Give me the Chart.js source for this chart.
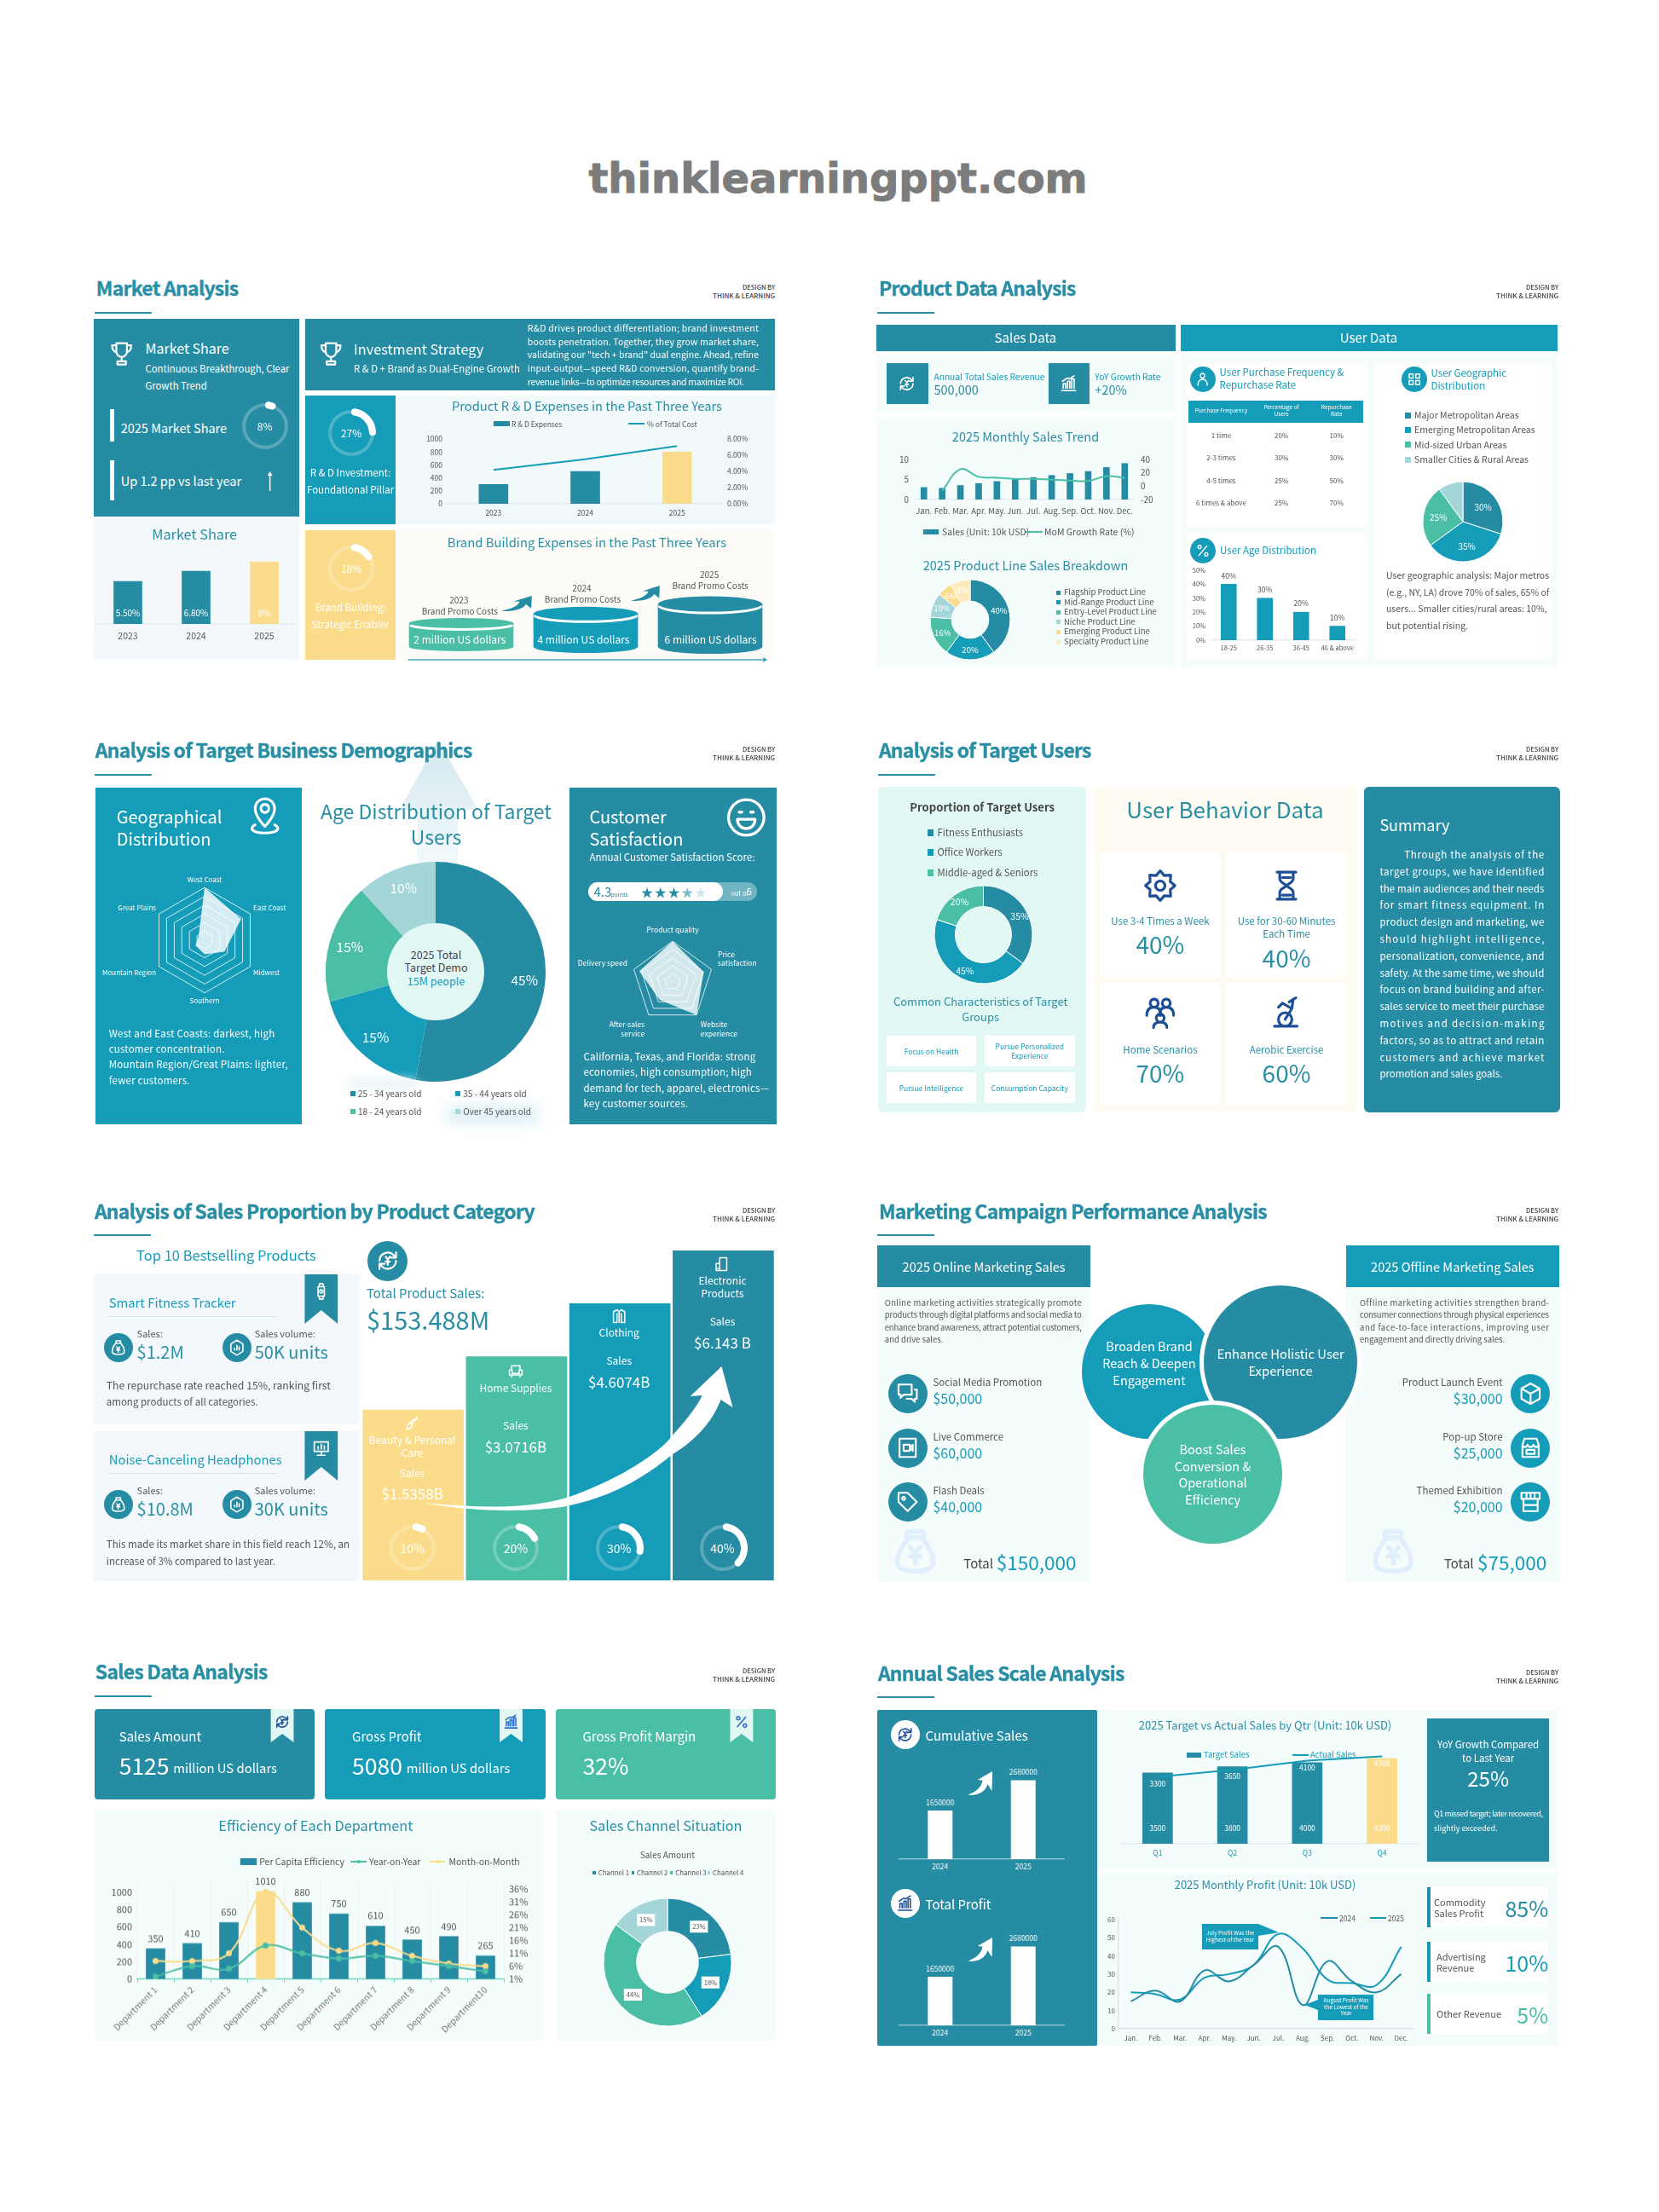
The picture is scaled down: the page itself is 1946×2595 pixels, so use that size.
<!DOCTYPE html>
<html>
<head>
<meta charset="utf-8">
<title>Eight slide dashboards</title>
<script src="https://cdn.jsdelivr.net/npm/chart.js@4"></script>
<style>
html,body{margin:0;padding:0;background:#fff}
#page{position:relative;width:1946px;height:2595px;overflow:hidden;background:#fff;font-family:"Noto Sans CJK SC","Noto Sans",sans-serif}
#page canvas,#page svg,#page div{position:absolute}
</style>
</head>
<body>
<div id="page"></div>
<script>
// data
const yearLabels = ['2023', '2024', '2025'];
const marketShare = [5.5, 6.8, 8];
const marketShareText = ['5.50%', '6.80%', '8%'];
const rdExpenses = [300, 500, 800];
const rdCostShare = [4.2, 5.5, 7.15];
const rdLeftTicks = [0, 200, 400, 600, 800, 1000];
const rdRightTicks = [0, 2, 4, 6, 8];
const brandCosts = [2, 4, 6];
const months = ['Jan.', 'Feb.', 'Mar.', 'Apr.', 'May.', 'Jun.', 'Jul.', 'Aug.', 'Sep.', 'Oct.', 'Nov.', 'Dec.'];
const monthlySales = [3, 2.8, 3.5, 4, 4.5, 5, 5.5, 6, 6.5, 7, 8, 9];
const monthlyGrowth = [null, -7, 25.5, 14, 12.7, 10.8, 11, 9.6, 8.5, 7.7, 15, 12.3];
const productLines = ['Flagship Product Line', 'Mid-Range Product Line', 'Entry-Level Product Line', 'Niche Product Line', 'Emerging Product Line', 'Specialty Product Line'];
const productLineShare = [40, 20, 16, 10, 6, 8];
const tableHead = [['Purchase Frequency'], ['Percentage of', 'Users'], ['Repurchase', 'Rate']];
const purchaseFrequency = ['1 time', '2-3 times', '4-5 times', '6 times & above'];
const purchaseUsers = ['20%', '30%', '25%', '25%'];
const purchaseRepeat = ['10%', '30%', '50%', '70%'];
const ageGroups = ['18-25', '26-35', '36-45', '46 & above'];
const ageShare = [40, 30, 20, 10];
const ageTicks = [0, 10, 20, 30, 40, 50];
const geoAreas = ['Major Metropolitan Areas', 'Emerging Metropolitan Areas', 'Mid-sized Urban Areas', 'Smaller Cities & Rural Areas'];
const geoShare = [30, 35, 25, 10];
const regionNames = ['West Coast', 'East Coast', 'Midwest', 'Southern', 'Mountain Region', 'Great Plains'];
const regionScores = [6, 4.8, 2.6, 1.6, 1.2, 0.8];
const targetAges = ['25 - 34 years old', '35 - 44 years old', '18 - 24 years old', 'Over 45 years old'];
const targetAgeShare = [45, 15, 15, 10];
const satisfactionNames = ['Product quality', ['Price', 'satisfaction'], ['Website', 'experience'], ['After-sales', 'service'], 'Delivery speed'];
const satisfactionScores = [5, 4, 5, 2.7, 4.3];
const userTypes = ['Fitness Enthusiasts', 'Office Workers', 'Middle-aged & Seniors'];
const userTypeShare = [35, 45, 20];
const categorySales = [1.5358, 3.0716, 4.6074, 6.143];
const categoryShare = [10, 20, 30, 40];
const departments = ['Department 1', 'Department 2', 'Department 3', 'Department 4', 'Department 5', 'Department 6', 'Department 7', 'Department 8', 'Department 9', 'Department10'];
const deptEfficiency = [350, 410, 650, 1010, 880, 750, 610, 450, 490, 265];
const deptYoY = [2, 6, 5, 14, 11, 9, 10, 8, 6, 4];
const deptMoM = [8, 8, 11, 35, 21, 12, 15, 10, 7, 6];
const deptLeftTicks = [0, 200, 400, 600, 800, 1000];
const deptRightTicks = [1, 6, 11, 16, 21, 26, 31, 36];
const channels = ['Channel 1', 'Channel 2', 'Channel 3', 'Channel 4'];
const channelShare = [23, 18, 44, 15];
const cumulativeYears = ['2024', '2025'];
const cumulativeSales = [1650000, 2680000];
const totalProfit = [1650000, 2680000];
const quarters = ['Q1', 'Q2', 'Q3', 'Q4'];
const targetSales = [3500, 3800, 4000, 4200];
const actualSales = [3300, 3650, 4100, 4308];
const profit2024 = [15, 21, 15, 32, 26, 35, 45, 13, 37, 26, 20, 30];
const profit2025 = [20, 19, 16, 28, 30, 35, 52, 44, 27, 25, 24, 45];
const profitTicks = [0, 10, 20, 30, 40, 50, 60];

const DARK = '#258CA3', CYAN = '#159CB8', GREEN = '#4ABFA6', YEL = '#FBDC8B', PALE = '#A3D5D9', CREAM = '#FDEBBB';
const HEAD = '#2A8FA5', SOFT = '#F4FCFC', MINT = '#E2F8F4', GRAY = '#555', NAVY = '#1D4E96';
const FONT = '"Noto Sans CJK SC","Noto Sans",sans-serif';
const page = document.getElementById('page');
const measure = document.createElement('canvas').getContext('2d');
Chart.defaults.font.family = FONT;
Chart.defaults.color = GRAY;

// page x positions were read with a slightly wide ruler, this pulls them back per slide
const RULER = 0.9941;
let originX = 0, ruler = 1;
function slide(x0) { originX = x0; ruler = RULER; }
function exact(on) { ruler = on ? 1 : RULER; }
function W(x) { return originX + (x - originX) * ruler; }

function t(s, x, y, o = {}) {
  const d = document.createElement('div');
  d.textContent = s;
  const size = o.s || 12;
  let ls = o.ls || 0;
  if (o.jw) {
    measure.font = `${o.w || 400} ${size}px ${FONT}`;
    ls = (o.jw - measure.measureText(s).width) / (s.length - 1);
  }
  const shift = o.a === 'c' ? '-50%' : o.a === 'r' ? '-100%' : '0';
  d.style.cssText = `left:${W(x)}px;top:${y}px;font-size:${size}px;color:${o.c || GRAY};font-weight:${o.w || 400};` +
    `letter-spacing:${ls}px;line-height:1.2;white-space:nowrap;transform:translate(${shift},-50%);` + (o.css || '');
  page.appendChild(d);
}
function lines(arr, x, y, dy, o) { arr.forEach((s, i) => t(s, x, y + i * dy, o)); }
function box(x0, y0, x1, y1, c, r, extra) {
  const d = document.createElement('div');
  d.style.cssText = `left:${W(x0)}px;top:${y0}px;width:${W(x1) - W(x0)}px;height:${y1 - y0}px;background:${c};border-radius:${r || 0}px;${extra || ''}`;
  page.appendChild(d);
}
function circle(cx, cy, r, c, ring) {
  const d = document.createElement('div');
  d.style.cssText = `left:${W(cx) - r}px;top:${cy - r}px;width:${2 * r}px;height:${2 * r}px;background:${c};border-radius:50%;` +
    (ring ? `box-shadow:0 0 0 ${ring}px #fff` : '');
  page.appendChild(d);
}
function shape(inner) {
  const s = document.createElementNS('http://www.w3.org/2000/svg', 'svg');
  s.setAttribute('width', 1946); s.setAttribute('height', 2595);
  s.style.cssText = 'left:0;top:0;pointer-events:none';
  s.innerHTML = `<g transform="translate(${originX} 0) scale(${ruler} 1) translate(${-originX} 0)">${inner}</g>`;
  page.appendChild(s);
}

const ICONS = {
  trophy: 'M7 2h10v8a5 5 0 0 1-10 0zM7 4H3c0 4 1.5 6 4 6.5M17 4h4c0 4-1.5 6-4 6.5M12 15v4M8 22h8v-3H8z',
  pin: 'M12 18S6 12 6 7a6 6 0 0 1 12 0c0 5-6 11-6 11zM12 4.5a2.5 2.5 0 1 0 .01 0zM6 17c-4 2-2 5 6 5s10-3 6-5',
  smile: 'M12 2a10 10 0 1 0 .01 0zM8 9h1.5M14.5 9H16M7 13h10c0 7-10 7-10 0z',
  cycle: 'M4 12a8 8 0 0 1 14-5l1.5 2M20 12a8 8 0 0 1-14 5l-1.5-2M20 4v5h-5M4 20v-5h5M10 8l2 3 2-3M12 11v5M10 13h4',
  rise: 'M3 21h18M5 18v-6h3v6M10.5 18V9h3v9M16 18V6h3v12M4 9l6-4 3 1 6-4',
  percent: 'M6 19L18 5M7 4a2.500 2.500 0 1 0 .01 0zM17 15a2.500 2.500 0 1 0 .01 0z',
  person: 'M12 3a3.500 3.500 0 1 0 .01 0zM5 21c0-6 3-9 7-9s7 3 7 9',
  grid: 'M4 4h6v6H4zM14 4h6v6h-6zM4 14h6v6H4zM14 14h6v6h-6z',
  watch: 'M8 6h8v12H8zM9 6l1-4h4l1 4M9 18l1 4h4l1-4M12 10a2 2 0 1 0 .01 0z',
  bag: 'M9 3h6v3H9zM9 6C5 10 4 14 4 17c0 3 2 4 8 4s8-1 8-4c0-3-1-7-5-11zM10 11l2 3 2-3M12 14v4M10 15h4',
  badge: 'M12 2l8 5v10l-8 5-8-5V7zM9 15v-2M12 15V9M15 15v-4',
  screen: 'M3 4h18v12H3zM12 16v4M7 21h10M8 13v-3M12 13V7M16 13V9',
  shirt: 'M9 3L4 6v15h5V8M15 3l5 3v15h-5V8M9 3l3 3 3-3M12 6v15',
  sofa: 'M6 10V5h12v5M3 11h4v5h10v-5h4v7H3zM6 18v3M18 18v3',
  phone: 'M8 3h10v18H8zM3 11h5v10H3zM5 18h1',
  brush: 'M20 3l-9 10-3-2zM8 11c-3 2-2 6-4 9 4 0 8-1 7-7',
  chat: 'M3 3h13v10H8l-3 3v-3H3zM19 8h2v9h-2v3l-3-3h-5',
  video: 'M4 3h16v18H4zM8 9h6v6H8zM14 12l3-3v6z',
  tag: 'M3 3h9l9 9-9 9-9-9zM8 7a1.500 1.500 0 1 0 .01 0z',
  box: 'M12 2l9 5v10l-9 5-9-5V7zM3 7l9 5 9-5M12 12v10',
  store: 'M4 9l2-6h12l2 6M4 9v12h16V9M4 9c1 3 4 3 5 0 1 3 5 3 6 0 1 3 4 3 5 0M8 14h8v4H8z',
  kiosk: 'M3 3h18v6H3zM5 9v12h14V9M5 15h14M8 3v6M12 3v6M16 3v6',
  gear: 'M12 1l3 3.500 4.800-.3-.3 4.800L23 12l-3.500 3 .3 4.800-4.800-.3L12 23l-3-3.500-4.800.3.3-4.800L1 12l3.500-3-.3-4.800 4.800.3zM12 8.500a3.500 3.500 0 1 0 .01 0z',
  hourglass: 'M5 2h14M5 22h14M7 2v5c0 3 5 4 5 5s-5 2-5 5v5M17 2v5c0 3-5 4-5 5s5 2 5 5v5M9 19h6M9 6h6',
  people: 'M7.500 2a3 3 0 1 0 .01 0zM16.500 2a3 3 0 1 0 .01 0zM2 14c0-4 2-6 5.500-6s5 2 5 6M11.500 14c0-4 1.500-6 5-6s5.500 2 5.500 6M12 13a3 3 0 1 0 .01 0zM7 23c0-3 2-4 5-4s5 1 5 4',
  bike: 'M3 22h17M6 17a5 5 0 1 0 10 0 5 5 0 0 0-10 0zM11 17l5-8-7-4M9 5l-3 3M16 9l1-7M14 4l5-3',
  moneybag: 'M9 2h6c2 0 2 3 0 3H9C7 5 7 2 9 2zM9 5C5 9 3 14 3 17c0 3 2 5 9 5s9-2 9-5c0-3-2-8-6-12zM9.500 10l2.500 3 2.500-3M12 13v5M9.500 14.500h5'
};
function icon(name, cx, cy, size, color, sw) {
  const k = size / 24;
  shape(`<g transform="translate(${cx - size / 2} ${cy - size / 2}) scale(${k})" fill="none" stroke="${color}" stroke-width="${sw || 1.8}" stroke-linejoin="round" stroke-linecap="round"><path d="${ICONS[name]}"/></g>`);
}
function badge(name, cx, cy, r, bg, fg) {
  circle(cx, cy, r, bg);
  icon(name, cx, cy, r * 1.25, fg || '#fff');
}
function swoosh(x, y, w, h, c) {
  shape(`<g transform="translate(${x} ${y}) scale(${w / 100} ${h / 100})"><path fill="${c}" d="M0 98C30 88 55 68 60 38L40 36 100 0 98 82 80 54C76 82 40 106 0 98Z"/></g>`);
}
function slideHead(title, x, y, right, lineX, lineY) {
  t(title, x, y, { s: 23, w: 700, c: HEAD, ls: -0.75, css: `-webkit-text-stroke:.4px ${HEAD}` });
  t('DESIGN BY', right, y - 2, { s: 7.5, w: 500, c: '#444', a: 'r' });
  t('THINK & LEARNING', right, y + 9, { s: 8, w: 500, c: '#444', a: 'r' });
  box(lineX, lineY - 1, lineX + 68, lineY + 1, HEAD);
}

function chartAt(x, y, w, h, cfg) {
  const c = document.createElement('canvas');
  c.width = w; c.height = h;
  c.style.cssText = `left:${x}px;top:${y}px;width:${w}px;height:${h}px`;
  page.appendChild(c);
  cfg.options = cfg.options || {};
  cfg.options.responsive = false;
  cfg.options.animation = false;
  cfg.options.plugins = Object.assign({ legend: { display: false }, tooltip: { enabled: false } }, cfg.options.plugins);
  return new Chart(c.getContext('2d'), cfg);
}
// plot = [x0,y0,x1,y1] page rectangle of the axes, m = [left,top,right,bottom] room around it
function cartesian(plot, m, cfg) {
  const x0 = W(plot[0]), y0 = plot[1], x1 = W(plot[2]), y1 = plot[3], [l, tp, r, b] = m, sc = cfg.scales;
  sc.x.afterFit = s => { s.height = b; };
  sc.y.afterFit = s => { s.width = l; };
  if (sc.y1) { sc.y1.position = 'right'; sc.y1.afterFit = s => { s.width = r; }; }
  return chartAt(x0 - l, y0 - tp, x1 - x0 + l + r, y1 - y0 + tp + b, {
    type: cfg.type || 'bar',
    data: { labels: cfg.labels, datasets: cfg.datasets },
    plugins: cfg.plugins || [],
    options: { layout: { padding: { top: tp, right: sc.y1 ? 0 : r } }, scales: sc }
  });
}
function xAxis(o = {}) {
  return {
    offset: true, grid: o.grid || { display: false, drawTicks: false },
    border: o.line ? { color: o.line, width: o.lw || 1.5 } : { display: false },
    ticks: { display: o.s !== undefined, font: { size: o.s }, color: o.c || GRAY, padding: o.pad || 4, autoSkip: false, maxRotation: o.rot || 0, minRotation: o.rot || 0 }
  };
}
function yAxis(min, max, vals, o = {}) {
  return {
    min, max, grid: { display: false, drawTicks: false },
    border: o.line ? { color: o.line, width: 1.5 } : { display: false },
    afterBuildTicks: vals ? (s => { s.ticks = vals.map(v => ({ value: v })); }) : undefined,
    ticks: { display: !!vals, autoSkip: false, font: { size: o.s }, color: o.c || GRAY, padding: o.pad || 5, callback: o.fmt || (v => v) }
  };
}
let labelId = 0;
function barLabels(o) {
  return {
    id: 'barLabels' + (labelId++),
    afterDatasetsDraw(chart) {
      const ctx = chart.ctx;
      ctx.save();
      ctx.font = `${o.s || 9}px ${FONT}`;
      ctx.fillStyle = o.c || GRAY;
      ctx.textAlign = 'center'; ctx.textBaseline = 'middle';
      chart.getDatasetMeta(o.ds || 0).data.forEach((el, i) => {
        const y = o.base !== undefined ? el.base - o.base : o.below !== undefined ? el.y + o.below : el.y - (o.top || 8);
        ctx.fillText(o.text[i], el.x, y);
      });
      ctx.restore();
    }
  };
}
function sliceLabels(o) {
  return {
    id: 'sliceLabels' + (labelId++),
    afterDatasetsDraw(chart) {
      const ctx = chart.ctx;
      ctx.save();
      ctx.font = `${o.s || 10}px ${FONT}`;
      ctx.textAlign = 'center'; ctx.textBaseline = 'middle';
      chart.getDatasetMeta(0).data.forEach((el, i) => {
        const a = (el.startAngle + el.endAngle) / 2, rr = el.innerRadius + (el.outerRadius - el.innerRadius) * (o.frac || 0.5);
        const x = el.x + Math.cos(a) * rr, y = el.y + Math.sin(a) * rr, txt = o.text[i];
        if (o.boxed) { const w = ctx.measureText(txt).width + 6; ctx.fillStyle = '#fff'; ctx.fillRect(x - w / 2, y - 7, w, 14); }
        ctx.fillStyle = o.c || '#fff';
        ctx.fillText(txt, x, y);
      });
      ctx.restore();
    }
  };
}
function donut(cx, cy, R, r, vals, colors, labels, edge) {
  const pad = 4, X = W(cx), cfg = {
    type: r ? 'doughnut' : 'pie',
    data: { datasets: [{ data: vals, backgroundColor: colors, borderColor: '#fff', borderWidth: edge === undefined ? 1 : edge, radius: R, cutout: r }] },
    plugins: labels ? [sliceLabels(labels)] : []
  };
  return chartAt(X - R - pad, cy - R - pad, 2 * (R + pad), 2 * (R + pad), cfg);
}
const ringTrack = {
  id: 'ringTrack',
  beforeDatasetsDraw(chart) {
    const el = chart.getDatasetMeta(0).data[0], ctx = chart.ctx;
    ctx.save();
    ctx.strokeStyle = 'rgba(255,255,255,.24)'; ctx.lineWidth = 4;
    ctx.beginPath(); ctx.arc(el.x, el.y, (el.outerRadius + el.innerRadius) / 2, 0, Math.PI * 2); ctx.stroke();
    ctx.restore();
  }
};
function ring(cx, cy, R, val, fs) {
  const pad = 3, X = W(cx);
  chartAt(X - R - pad, cy - R - pad, 2 * (R + pad), 2 * (R + pad), {
    type: 'doughnut',
    data: { datasets: [{ data: [val, 100 - val], backgroundColor: ['#fff', 'rgba(0,0,0,0)'], borderWidth: 0, radius: R, cutout: R - 6, borderRadius: c => c.dataIndex === 0 ? 4 : 0 }] },
    plugins: [ringTrack]
  });
  t(val + '%', cx, cy, { s: fs || 12, c: '#fff', a: 'c' });
}
function legendItem(x, y, name, c, o = {}) {
  const z = o.z || 6;
  box(x, y - z / 2, x + z, y + z / 2, c);
  t(name, x + z + (o.gap || 4), y, { s: o.s || 10, c: o.tc || GRAY });
}
function lineLegend(x0, x1, y, name, c, o = {}) {
  box(x0, y - 1, x1, y + 1, c);
  t(name, x1 + (o.gap || 2), y, { s: o.s || 10, c: o.tc || GRAY });
}

// watermark
t('thinklearningppt.com', 983, 210, { s: 48, w: 700, c: '#7c7c7c', a: 'c', css: 'font-family:"DejaVu Sans";-webkit-text-stroke:1px #7c7c7c' });

// ---------- slide 1: market analysis ----------
slide(90);
slideHead('Market Analysis', 113, 338, 914, 111, 367);
box(110, 374, 353, 606, DARK);
icon('trophy', 143, 415, 30, '#fff');
t('Market Share', 171, 409, { s: 16, c: '#fff' });
lines(['Continuous Breakthrough, Clear', 'Growth Trend'], 171, 433, 19.5, { s: 11.3, c: '#fff' });
box(129, 480, 134, 518, '#fff');
t('2025 Market Share', 142, 502, { s: 14.5, c: '#fff' });
ring(312, 500, 29, 8);
box(129, 540, 134, 587, '#fff');
t('Up 1.2 pp vs last year', 142, 564, { s: 14.5, c: '#fff' });
shape('<path d="M318 576V557" stroke="#fff" stroke-width="1.500"/><path d="M315 558l3-5 3 5z" fill="#fff"/>');

box(110, 607, 353, 774, '#F3F8FB');
t('Market Share', 229, 627, { s: 16.3, c: HEAD, a: 'c' });
cartesian([110, 650, 352, 732], [0, 8, 0, 26], {
  labels: yearLabels,
  datasets: [{ data: marketShare, backgroundColor: [DARK, DARK, YEL], barThickness: 33 }],
  scales: { x: xAxis({ s: 10.5, line: '#E6ECEF', pad: 8 }), y: yAxis(0, 9.02) },
  plugins: [barLabels({ text: marketShareText, base: 13, s: 10, c: '#fff' })]
});

box(360, 374, 914, 458, DARK);
icon('trophy', 390, 415, 30, '#fff');
t('Investment Strategy', 417, 410, { s: 16.3, c: '#fff' });
t('R & D + Brand as Dual-Engine Growth', 417, 433, { s: 11.4, c: '#fff' });
['R&D drives product differentiation; brand investment', 'boosts penetration. Together, they grow market share,',
  'validating our "tech + brand" dual engine. Ahead, refine', 'input-output—speed R&D conversion, quantify brand-'
].forEach((s, i) => t(s, 622, 385 + i * 15.7, { s: 10.5, c: '#fff', jw: 271 }));
t('revenue links—to optimize resources and maximize ROI.', 622, 447.8, { s: 10.5, c: '#fff', jw: 254 });

box(360, 464, 466, 615, CYAN);
ring(414, 508, 29, 27);
lines(['R & D Investment:', 'Foundational Pillar'], 413, 555, 19.5, { s: 11.500, c: '#fff', a: 'c' });
box(466, 464, 914, 615, '#F1F9FB');
t('Product R & D Expenses in the Past Three Years', 692, 476, { s: 14.7, c: HEAD, a: 'c' });
box(582, 494, 601, 500, DARK);
t('R & D Expenses', 603, 497, { s: 8.500 });
box(741, 496, 760, 498, CYAN);
t('% of Total Cost', 763, 497, { s: 8.500 });
cartesian([528, 512, 853, 591], [40, 8, 40, 20], {
  labels: yearLabels,
  datasets: [
    { type: 'line', data: rdCostShare, yAxisID: 'y1', borderColor: CYAN, borderWidth: 2, pointRadius: 0, order: 1 },
    { data: rdExpenses, backgroundColor: [DARK, DARK, YEL], barThickness: 34, order: 2 }
  ],
  scales: {
    x: xAxis({ s: 8.500, line: '#E6ECEF', pad: 6 }),
    y: yAxis(0, 1000, rdLeftTicks, { s: 8.500, pad: 6 }),
    y1: yAxis(0, 8, rdRightTicks, { s: 8.500, fmt: v => v.toFixed(2) + '%' })
  }
});

box(360, 622, 466, 774, YEL);
ring(414, 667, 29, 18);
lines(['Brand Building:', 'Strategic Enabler'], 413, 713, 20, { s: 11.500, c: '#fff', a: 'c' });
box(466, 622, 914, 774, '#FDFCF8');
t('Brand Building Expenses in the Past Three Years', 692, 636, { s: 14.8, c: HEAD, a: 'c' });
const cylinderCaps = {
  id: 'cylinderCaps',
  afterDatasetsDraw(chart) {
    const ctx = chart.ctx, cols = [GREEN, CYAN, DARK], ry = [6, 8, 9];
    chart.getDatasetMeta(0).data.forEach((b, i) => {
      const rx = b.width / 2;
      ctx.fillStyle = cols[i];
      ctx.beginPath(); ctx.ellipse(b.x, b.base, rx, ry[i] - 1, 0, 0, Math.PI * 2); ctx.fill();
      ctx.fillStyle = '#fff';
      ctx.beginPath(); ctx.ellipse(b.x, b.y + 3, rx, ry[i], 0, 0, Math.PI * 2); ctx.fill();
      ctx.fillStyle = cols[i];
      ctx.beginPath(); ctx.ellipse(b.x, b.y, rx, ry[i], 0, 0, Math.PI * 2); ctx.fill();
    });
  }
};
cartesian([470, 690, 911, 759], [0, 12, 0, 10], {
  labels: yearLabels,
  datasets: [{ data: brandCosts, backgroundColor: [GREEN, CYAN, DARK], barThickness: 122, base: -3 }],
  scales: { x: xAxis(), y: yAxis(-3, 9.32) },
  plugins: [cylinderCaps]
});
yearLabels.forEach((yr, i) => {
  const cx = [541, 686, 836.5][i], cy = [704, 690, 674][i], mx = [542, 688, 838][i];
  t(yr, cx, cy, { s: 10, a: 'c' });
  t('Brand Promo Costs', cx + 1, cy + 13, { s: 10, a: 'c' });
  t(brandCosts[i] + ' million US dollars', mx, 750, { s: 12, c: '#fff', a: 'c' });
});
swoosh(591, 699, 36, 18, DARK);
swoosh(744, 687, 34, 18, DARK);
shape('<path d="M481 774H903" stroke="#3FA9BE" stroke-width="1.500"/><path d="M900 771l5 3-5 3z" fill="#3FA9BE"/>');

// ---------- slide 2: product data ----------
slide(1010);
slideHead('Product Data Analysis', 1031, 338, 1833, 1029, 367);
box(1028, 381, 1381, 412, DARK);
t('Sales Data', 1204, 396, { s: 15, c: '#fff', a: 'c' });
box(1387, 381, 1832, 412, CYAN);
t('User Data', 1609, 396, { s: 15, c: '#fff', a: 'c' });
box(1028, 417, 1381, 484, SOFT);
box(1028, 489, 1381, 783, SOFT);
box(1387, 417, 1832, 783, SOFT);
box(1394, 425, 1608, 618, '#fff');
box(1394, 625, 1608, 775, '#fff');
box(1616, 425, 1825, 775, '#fff');
box(1040, 426, 1089, 474, DARK);
icon('cycle', 1064, 450, 22, '#fff');
t('Annual Total Sales Revenue', 1096, 442, { s: 10.2, c: CYAN });
t('500,000', 1096, 457, { s: 14.5, c: HEAD });
box(1231, 426, 1280, 474, DARK);
icon('rise', 1255, 450, 22, '#fff');
t('YoY Growth Rate', 1286, 442, { s: 10.2, c: CYAN });
t('+20%', 1286, 457, { s: 14.5, c: HEAD });

exact(true);
t('2025 Monthly Sales Trend', 1203, 512, { s: 14.5, c: HEAD, a: 'c' });
cartesian([1073, 533, 1330, 586], [30, 8, 35, 22], {
  labels: months,
  datasets: [
    { type: 'line', data: monthlyGrowth, yAxisID: 'y1', borderColor: GREEN, borderWidth: 2, pointRadius: 0, tension: 0.4, order: 1 },
    { data: monthlySales, backgroundColor: DARK, barThickness: 7, order: 2 }
  ],
  scales: {
    x: xAxis({ s: 9.500, line: '#E6ECEF', pad: 8 }),
    y: yAxis(0, 10, [0, 5, 10], { s: 10, pad: 7 }),
    y1: yAxis(-20, 40, [-20, 0, 20, 40], { s: 10, pad: 8 })
  }
});
box(1083, 621, 1101, 627, DARK);
t('Sales (Unit: 10k USD)', 1105, 624, { s: 10.5 });
box(1203, 623, 1223, 625, GREEN);
t('MoM Growth Rate (%)', 1225, 624, { s: 10.5 });

t('2025 Product Line Sales Breakdown', 1203, 663, { s: 14.5, c: HEAD, a: 'c' });
const sixColors = [DARK, CYAN, GREEN, PALE, YEL, CREAM];
donut(1138, 727, 47, 23.5, productLineShare, sixColors, { text: productLineShare.map(v => v + '%'), s: 9.500, frac: 0.55 });
productLines.forEach((n, i) => legendItem(1239, 695 + i * 11.6, n, sixColors[i], { z: 5, s: 9.500 }));
exact(false);

badge('person', 1413, 445, 15, CYAN);
lines(['User Purchase Frequency &', 'Repurchase Rate'], 1433, 437, 15, { s: 11.500, c: CYAN });
box(1396, 470, 1603, 496, CYAN);
const colX = [1435, 1506, 1571];
tableHead.forEach((h, i) => {
  const y = h.length === 1 ? 482 : 478;
  lines(h, colX[i], y, 8, { s: 6.500, c: '#fff', a: 'c' });
});
purchaseFrequency.forEach((f, i) => {
  const y = 511 + i * 26.4;
  t(f, colX[0], y, { s: 8, a: 'c' });
  t(purchaseUsers[i], colX[1], y, { s: 8, a: 'c' });
  t(purchaseRepeat[i], colX[2], y, { s: 8, a: 'c' });
});
exact(true);
badge('percent', 1411, 646, 15, CYAN);
t('User Age Distribution', 1431, 646, { s: 11.500, c: CYAN });
cartesian([1420, 669, 1590, 751], [26, 12, 8, 16], {
  labels: ageGroups,
  datasets: [{ data: ageShare, backgroundColor: CYAN, barThickness: 18 }],
  scales: {
    x: xAxis({ s: 7.500, line: '#E6ECEF', pad: 5 }),
    y: yAxis(0, 50, ageTicks, { s: 7.500, pad: 6, fmt: v => v + '%' })
  },
  plugins: [barLabels({ text: ageShare.map(v => v + '%'), top: 10, s: 8.500 })]
});
exact(false);
badge('grid', 1663, 445, 15, CYAN);
lines(['User Geographic', 'Distribution'], 1682.5, 438, 15, { s: 11.500, c: CYAN });
exact(true);
const fourColors = [DARK, CYAN, GREEN, PALE];
geoAreas.forEach((n, i) => legendItem(1648, 487 + i * 17.4, n, fourColors[i], { z: 7, s: 10.500, gap: 4 }));
donut(1716, 612, 47, 0, geoShare, fourColors, { text: ['30%', '35%', '25%', ''], s: 10, frac: 0.62 });
lines(['User geographic analysis: Major metros', '(e.g., NY, LA) drove 70% of sales, 65% of',
  'users... Smaller cities/rural areas: 10%,', 'but potential rising.'], 1626, 675, 19.6, { s: 10.500 });
exact(false);

// ---------- slide 3: demographics ----------
slide(90);
shape('<defs><linearGradient id="up" x1="0" y1="0" x2="0" y2="1"><stop offset="0" stop-color="#D3E8EF"/><stop offset="1" stop-color="#F2F9FB"/></linearGradient></defs>' +
  '<path fill="url(#up)" d="M516 868L564 950H540V1012H492V950H471Z"/>');
slideHead('Analysis of Target Business Demographics', 112, 880, 914, 111, 909);
box(112, 924, 356, 1319, CYAN);
lines(['Geographical', 'Distribution'], 137, 958, 26, { s: 20, c: '#fff' });
icon('pin', 312, 958, 46, '#fff', 1.6);
chartAt(W(113), 1027, 240, 152, {
  type: 'radar',
  data: { labels: regionNames, datasets: [{ data: regionScores, backgroundColor: 'rgba(255,255,255,.82)', borderWidth: 0, pointRadius: 0 }] },
  options: { scales: { r: { min: 0, max: 6, ticks: { display: false, stepSize: 1 }, angleLines: { display: false }, grid: { color: 'rgba(255,255,255,.8)' }, pointLabels: { color: '#fff', font: { size: 8 }, padding: 4 } } } }
});
lines(['West and East Coasts: darkest, high', 'customer concentration.', 'Mountain Region/Great Plains: lighter,', 'fewer customers.'],
  128, 1213, 18.2, { s: 11.500, c: '#fff', ls: 0.2 });

lines(['Age Distribution of Target', 'Users'], 514, 952, 30, { s: 23, c: HEAD, a: 'c' });
const ageColors = [DARK, CYAN, GREEN, PALE];
donut(514, 1140, 129, 57, targetAgeShare, ageColors, { text: targetAgeShare.map(v => v + '%'), s: 15.500, frac: 0.67 }, 0);
circle(514, 1140, 57, MINT);
lines(['2025 Total', 'Target Demo'], 514, 1119, 15.4, { s: 12.5, c: '#444', a: 'c' });
t('15M people', 514, 1150, { s: 12.5, c: CYAN, a: 'c' });
box(412, 1266, 490, 1276, '#E3F3F7', 5, 'filter:blur(6px)');
box(525, 1295, 635, 1320, '#E3F3F7', 8, 'filter:blur(7px)');
targetAges.forEach((n, i) => legendItem(i % 2 ? 537 : 413, i < 2 ? 1283 : 1304, n, ageColors[i], { z: 6, s: 10, gap: 3 }));

box(671, 924, 916, 1319, DARK);
lines(['Customer', 'Satisfaction'], 695, 958, 26, { s: 20, c: '#fff' });
icon('smile', 880, 959, 50, '#fff', 1.6);
t('Annual Customer Satisfaction Score:', 695, 1006, { s: 11.500, c: '#fff' });
box(694, 1035, 893, 1057, 'rgba(255,255,255,.35)', 11);
box(694, 1035, 853, 1057, '#fff', 11);
t('4.3', 700, 1046, { s: 15, c: DARK });
t('points', 720, 1049, { s: 7, c: DARK });
['#258CA3', '#258CA3', '#258CA3', '#7DBBCB', '#CFE6EC'].forEach((c, i) => t('★', 763 + i * 15.8, 1046, { s: 14, c, a: 'c' }));
t('out of', 862, 1047, { s: 7.500, c: '#fff' });
t('5', 881, 1046, { s: 10, c: '#fff' });
chartAt(W(793.5) - 130, 1086, 260, 132, {
  type: 'radar',
  data: { labels: satisfactionNames, datasets: [{ data: satisfactionScores, backgroundColor: 'rgba(255,255,255,.8)', borderWidth: 0, pointRadius: 0 }] },
  options: { scales: { r: { min: 0, max: 5, ticks: { display: false, stepSize: 1 }, angleLines: { display: false }, grid: { color: 'rgba(255,255,255,.8)' }, pointLabels: { color: '#fff', font: { size: 8.5 }, padding: 8 } } } }
});
lines(['California, Texas, and Florida: strong', 'economies, high consumption; high', 'demand for tech, apparel, electronics—', 'key customer sources.'],
  688, 1240, 18.3, { s: 11.500, c: '#fff', ls: 0.2 });

// ---------- slide 4: target users ----------
slide(1010);
slideHead('Analysis of Target Users', 1031, 880, 1833, 1030, 909);
box(1030, 923, 1276, 1305, MINT, 6);
t('Proportion of Target Users', 1153, 947, { s: 13.1, w: 700, c: '#444', a: 'c' });
const threeColors = [DARK, CYAN, GREEN];
userTypes.forEach((n, i) => legendItem(1088, 977 + i * 23.3, n, threeColors[i], { z: 8, s: 11.3, gap: 4 }));
donut(1154, 1096, 57.5, 35, userTypeShare, threeColors, { text: userTypeShare.map(v => v + '%'), s: 10.500, frac: 0.6 });
lines(['Common Characteristics of Target', 'Groups'], 1151, 1175, 17.5, { s: 13, c: HEAD, a: 'c' });
box(1040, 1215, 1146, 1251, '#fff', 3);
box(1155.5, 1215, 1262, 1251, '#fff', 3);
box(1040, 1258, 1146, 1294, '#fff', 3);
box(1155.5, 1258, 1262, 1294, '#fff', 3);
t('Focus on Health', 1093, 1233, { s: 8.500, c: CYAN, a: 'c' });
lines(['Pursue Personalized', 'Experience'], 1209, 1227, 11, { s: 8.500, c: CYAN, a: 'c' });
t('Pursue Intelligence', 1093, 1276, { s: 8.500, c: CYAN, a: 'c' });
t('Consumption Capacity', 1209, 1276, { s: 8.500, c: CYAN, a: 'c' });

box(1285, 923, 1594, 1305, '#FEFBF2', 6);
t('User Behavior Data', 1439.5, 949, { s: 26, c: HEAD, a: 'c' });
box(1292, 1001, 1434, 1146, '#fff', 4);
box(1441, 1001, 1583, 1146, '#fff', 4);
box(1292, 1152, 1434, 1297, '#fff', 4);
box(1441, 1152, 1583, 1297, '#fff', 4);
icon('gear', 1363, 1039, 38, NAVY, 2);
icon('hourglass', 1512, 1039, 38, NAVY, 2);
icon('people', 1363, 1188, 38, NAVY, 2);
icon('bike', 1512, 1188, 38, NAVY, 2);
t('Use 3-4 Times a Week', 1363, 1081, { s: 11.500, c: HEAD, a: 'c' });
t('40%', 1363, 1108, { s: 28, c: HEAD, a: 'c' });
lines(['Use for 30-60 Minutes', 'Each Time'], 1512, 1081, 15.3, { s: 11.500, c: HEAD, a: 'c' });
t('40%', 1512, 1124, { s: 28, c: HEAD, a: 'c' });
t('Home Scenarios', 1363, 1232, { s: 11.500, c: HEAD, a: 'c' });
t('70%', 1363, 1259, { s: 28, c: HEAD, a: 'c' });
t('Aerobic Exercise', 1512, 1232, { s: 11.500, c: HEAD, a: 'c' });
t('60%', 1512, 1259, { s: 28, c: HEAD, a: 'c' });

box(1603, 923, 1835, 1305, DARK, 6);
t('Summary', 1622, 968, { s: 18, c: '#fff' });
const summaryLines = ['Through the analysis of the', 'target groups, we have identified', 'the main audiences and their needs', 'for smart fitness equipment. In',
  'product design and marketing, we', 'should highlight intelligence,', 'personalization, convenience, and', 'safety. At the same time, we should',
  'focus on brand building and after-', 'sales service to meet their purchase', 'motives and decision-making', 'factors, so as to attract and retain',
  'customers and achieve market', 'promotion and sales goals.'];
summaryLines.forEach((s, i) => {
  if (i === 0) t(s, 1651, 1003, { s: 11.500, c: '#fff', jw: 164 });
  else if (i === summaryLines.length - 1) t(s, 1622, 1003 + i * 19.8, { s: 11.500, c: '#fff' });
  else t(s, 1622, 1003 + i * 19.8, { s: 11.500, c: '#fff', jw: 193 });
});

// ---------- slide 5: product category ----------
slide(90);
slideHead('Analysis of Sales Proportion by Product Category', 111, 1421, 914, 110, 1449);
t('Top 10 Bestselling Products', 266.5, 1473, { s: 16.5, c: CYAN, a: 'c' });
function productCard(y, name, ribbonIcon, sales, units, desc, ink, descSizes) {
  box(110, y, 423, y + 176, '#F2F8FB');
  shape(`<path fill="${DARK}" d="M359 ${y}H398V${y + 58}L378.500 ${y + 42}L359 ${y + 58}Z"/>`);
  icon(ribbonIcon, 378.5, y + 20, 22, '#fff');
  t(name, 128, y + 33, { s: 14.8, c: CYAN });
  box(128, y + 49, 327, y + 50, '#D5E6EB');
  badge('bag', 139, y + 86, 17, DARK);
  badge('badge', 279, y + 86, 17, DARK);
  t('Sales:', 161, y + 70, { s: 11 });
  t(sales, 161, y + 91, { s: 20, c: HEAD });
  t('Sales volume:', 300, y + 70, { s: 11 });
  t(units, 300, y + 91, { s: 20, c: HEAD });
  desc.forEach((s, i) => t(s, 125, y + ink + i * 20, { s: descSizes[i] }));
}
productCard(1495, 'Smart Fitness Tracker', 'watch', '$1.2M', '50K units', ['The repurchase rate reached 15%, ranking first', 'among products of all categories.'], 130, [12.2, 11.5]);
productCard(1679, 'Noise-Canceling Headphones', 'screen', '$10.8M', '30K units', ['This made its market share in this field reach 12%, an', 'increase of 3% compared to last year.'], 133, [11.6, 11.5]);
badge('cycle', 457, 1479, 23.500, DARK);
t('Total Product Sales:', 432, 1517, { s: 15, c: HEAD });
t('$153.488M', 432, 1547, { s: 29, c: HEAD });
cartesian([426, 1467, 914, 1854], [0, 2, 0, 2], {
  labels: ['Beauty & Personal Care', 'Home Supplies', 'Clothing', 'Electronic Products'],
  datasets: [{ data: categorySales, backgroundColor: [YEL, GREEN, CYAN, DARK], barThickness: 118, base: -3.39 }],
  scales: { x: xAxis(), y: yAxis(-3.39, 6.143) }
});
shape('<path fill="#fff" d="M499 1763C560 1769 620 1771 668 1757C720 1740 775 1708 793 1684C810 1665 822 1650 828 1637L814 1638L851 1603L864 1651L850 1642C840 1668 820 1690 793 1706C750 1742 710 1758 668 1767C620 1775 550 1773 499 1763Z"/>');
const stepX = [486, 608, 730, 852];
const w = { s: 12, c: '#fff', a: 'c' }, big = { s: 17, c: '#fff', a: 'c' };
icon('brush', 486, 1670, 20, '#fff');
lines(['Beauty & Personal', 'Care'], 486, 1689, 15, w);
t('Sales', 486, 1728, w); t('$1.5358B', 486, 1752, big);
icon('sofa', 608, 1608, 20, '#fff');
t('Home Supplies', 608, 1628, w);
t('Sales', 608, 1672, w); t('$3.0716B', 608, 1697, big);
icon('shirt', 730, 1544, 20, '#fff');
t('Clothing', 730, 1563, w);
t('Sales', 730, 1596, w); t('$4.6074B', 730, 1621, big);
icon('phone', 852, 1483, 20, '#fff');
lines(['Electronic', 'Products'], 852, 1502, 15, w);
t('Sales', 852, 1550, w); t('$6.143 B', 852, 1575, big);
categoryShare.forEach((v, i) => ring(stepX[i], 1816, 29, v, 14));

// ---------- slide 6: marketing ----------
slide(1010);
slideHead('Marketing Campaign Performance Analysis', 1031, 1421, 1833, 1029, 1449);
box(1029, 1461, 1281, 1510, DARK);
box(1029, 1510, 1281, 1856, SOFT);
t('2025 Online Marketing Sales', 1155, 1486, { s: 14.6, c: '#fff', a: 'c' });
box(1582, 1461, 1834, 1510, CYAN);
box(1582, 1510, 1834, 1856, SOFT);
t('2025 Offline Marketing Sales', 1708, 1486, { s: 14.6, c: '#fff', a: 'c' });
const onlineText = ['Online marketing activities strategically promote', 'products through digital platforms and social media to',
  'enhance brand awareness, attract potential customers,', 'and drive sales.'];
const offlineText = ['Offline marketing activities strengthen brand-', 'consumer connections through physical experiences',
  'and face-to-face interactions, improving user', 'engagement and directly driving sales.'];
onlineText.forEach((s, i) => t(s, 1038, 1529 + i * 14.4, i < 3 ? { s: 9.500, jw: 231 } : { s: 9.500 }));
offlineText.forEach((s, i) => t(s, 1598.5, 1529 + i * 14.4, i < 3 ? { s: 9.500, jw: 222 } : { s: 9.500 }));
circle(1350.5, 1609, 79, CYAN, 3);
circle(1505, 1598, 90, DARK, 5);
circle(1425, 1729, 81.5, GREEN, 5);
lines(['Broaden Brand', 'Reach & Deepen', 'Engagement'], 1350, 1579, 20, { s: 14.5, c: '#fff', a: 'c' });
lines(['Enhance Holistic User', 'Experience'], 1505, 1588, 20, { s: 14.8, c: '#fff', a: 'c' });
lines(['Boost Sales', 'Conversion &', 'Operational', 'Efficiency'], 1425, 1700, 19.7, { s: 14.5, c: '#fff', a: 'c' });
function campaign(name, value, iconName, row, side) {
  const cy = 1635 + row * 63.5, lab = 1622 + row * 63.5, val = 1641 + row * 63.5;
  if (side === 'l') {
    badge(iconName, 1065, cy, 23, DARK);
    t(name, 1095, lab, { s: 11.500 });
    t(value, 1095, val, { s: 16, c: CYAN });
  } else {
    badge(iconName, 1800, cy, 23, CYAN);
    t(name, 1767, lab, { s: 11.500, a: 'r' });
    t(value, 1767, val, { s: 16, c: CYAN, a: 'r' });
  }
}
campaign('Social Media Promotion', '$50,000', 'chat', 0, 'l');
campaign('Live Commerce', '$60,000', 'video', 1, 'l');
campaign('Flash Deals', '$40,000', 'tag', 2, 'l');
campaign('Product Launch Event', '$30,000', 'box', 0, 'r');
campaign('Pop-up Store', '$25,000', 'store', 1, 'r');
campaign('Themed Exhibition', '$20,000', 'kiosk', 2, 'r');
icon('moneybag', 1074, 1820, 56, '#E1EEFB', 2.4);
icon('moneybag', 1638, 1820, 56, '#E1EEFB', 2.4);
t('Total', 1131, 1834, { s: 15, c: '#444' });
t('$150,000', 1264, 1832, { s: 22.5, c: CYAN, a: 'r' });
t('Total', 1698, 1834, { s: 15, c: '#444' });
t('$75,000', 1819, 1832, { s: 22.5, c: CYAN, a: 'r' });

// ---------- slide 7: sales data ----------
slide(90);
slideHead('Sales Data Analysis', 112, 1961, 914, 111, 1990);
function kpi(x, textX, c, title, num, unit, unitX, rx, iconName, iconColor) {
  box(x, 2005, x + 260, 2111, c, 4);
  shape(`<path fill="${MINT}" d="M${rx} 2005H${rx + 27}V2044L${rx + 13.500} 2034L${rx} 2044Z"/>`);
  icon(iconName, rx + 13.5, 2020, 19, iconColor, 2);
  t(title, textX, 2037, { s: 15, c: '#fff' });
  t(num, textX, 2071, { s: 26.5, c: '#fff' });
  if (unit) t(unit, unitX, 2074, { s: 14.8, c: '#fff' });
}
kpi(111, 140, DARK, 'Sales Amount', '5125', 'million US dollars', 204, 319, 'cycle', NAVY);
kpi(383, 415, CYAN, 'Gross Profit', '5080', 'million US dollars', 479, 589, 'rise', '#2B6CC4');
kpi(655, 687, GREEN, 'Gross Profit Margin', '32%', '', 0, 861, 'percent', '#2B6CC4');
box(111, 2123, 641, 2394, SOFT, 6);
box(655, 2123, 915, 2394, SOFT, 6);
t('Efficiency of Each Department', 372, 2142, { s: 16.3, c: HEAD, a: 'c' });
t('Sales Channel Situation', 785, 2142, { s: 16.2, c: HEAD, a: 'c' });
box(283, 2180, 302, 2188, DARK);
t('Per Capita Efficiency', 305.5, 2184, { s: 10.500 });
lineLegend(413, 432, 2184, 'Year-on-Year', GREEN, { s: 10.500, gap: 3 });
circle(422.5, 2184, 2, GREEN);
lineLegend(506, 525, 2184, 'Month-on-Month', YEL, { s: 10.500, gap: 4 });
circle(515.5, 2184, 2, YEL);
cartesian([161, 2209, 594, 2321.7], [45, 12, 45, 72], {
  labels: departments,
  datasets: [
    { type: 'line', data: deptMoM, yAxisID: 'y1', borderColor: YEL, backgroundColor: YEL, borderWidth: 2, pointRadius: 2.500, tension: 0.4, order: 1 },
    { type: 'line', data: deptYoY, yAxisID: 'y1', borderColor: GREEN, backgroundColor: GREEN, borderWidth: 2, pointRadius: 2.500, tension: 0.4, order: 0 },
    { data: deptEfficiency, backgroundColor: departments.map((d, i) => i === 3 ? YEL : DARK), barThickness: 22, order: 2 }
  ],
  scales: {
    x: xAxis({ s: 10.500, c: '#777', line: '#6ADCBC', pad: 2, rot: 45, grid: { display: true, color: '#EDF1F1', tickColor: '#6ADCBC', tickLength: 4 } }),
    y: yAxis(0, 1100, deptLeftTicks, { s: 11, pad: 6 }),
    y1: yAxis(1, 38.2, deptRightTicks, { s: 11, pad: 6, fmt: v => v + '%' })
  },
  plugins: [barLabels({ ds: 2, text: deptEfficiency, top: 12, s: 11 })]
});
t('Sales Amount', 787, 2176, { s: 10, a: 'c' });
channels.forEach((n, i) => legendItem([699, 744.5, 790, 834][i], 2197, n, fourColors[i], { z: 3.500, s: 7.800, gap: 3 }));
donut(787, 2302, 75, 38, channelShare, fourColors, { text: channelShare.map(v => v + '%'), s: 7.500, c: '#555', boxed: true, frac: 0.5 });

// ---------- slide 8: annual scale ----------
slide(1010);
slideHead('Annual Sales Scale Analysis', 1030, 1963, 1833, 1029, 1991);
box(1029, 2006, 1289, 2400, DARK, 2);
box(1290, 2006, 1833, 2192, SOFT);
box(1290, 2197, 1833, 2400, SOFT);
function whiteBars(iconName, title, headY, base, vals) {
  badge(iconName, 1062, headY, 17, '#fff', NAVY);
  t(title, 1086, headY + 1, { s: 15, c: '#fff' });
  cartesian([1054, base - 110.4, 1250, base], [0, 16, 0, 18], {
    labels: cumulativeYears,
    datasets: [{ data: vals, backgroundColor: '#fff', barThickness: 28 }],
    scales: { x: xAxis({ s: 8.500, c: '#fff', line: 'rgba(255,255,255,.45)', pad: 4 }), y: yAxis(0, 3200000) },
    plugins: [barLabels({ text: vals, top: 10, s: 8.500, c: '#fff' })]
  });
  swoosh(1136, base - 103, 29, 28, '#fff');
}
whiteBars('cycle', 'Cumulative Sales', 2035, 2181, cumulativeSales);
whiteBars('rise', 'Total Profit', 2233, 2376, totalProfit);

exact(true);
t('2025 Target vs Actual Sales by Qtr (Unit: 10k USD)', 1484, 2024, { s: 13, c: HEAD, a: 'c' });
box(1392, 2056, 1409, 2062, DARK);
t('Target Sales', 1412, 2059, { s: 9.500, c: CYAN });
box(1516, 2058, 1535, 2060, CYAN);
t('Actual Sales', 1537, 2059, { s: 9.500, c: CYAN });
cartesian([1314, 2056, 1665, 2163], [0, 8, 0, 20], {
  labels: quarters,
  datasets: [
    { type: 'line', data: actualSales, borderColor: CYAN, borderWidth: 2, pointRadius: 0, order: 1 },
    { data: targetSales, backgroundColor: [DARK, DARK, DARK, YEL], barThickness: 35, order: 2 }
  ],
  scales: { x: xAxis({ s: 8.500, c: CYAN, line: '#E6ECEF', pad: 6 }), y: yAxis(0, 4500) },
  plugins: [barLabels({ ds: 1, text: targetSales, base: 18, s: 8.500, c: '#fff' }), barLabels({ ds: 0, text: actualSales, below: 8, s: 8.500, c: '#fff' })]
});
exact(false);
box(1678, 2016, 1822, 2184, DARK);
lines(['YoY Growth Compared', 'to Last Year'], 1750, 2047, 16, { s: 11.500, c: '#fff', a: 'c' });
t('25%', 1750, 2086, { s: 24, c: '#fff', a: 'c' });
t('Q1 missed target; later recovered,', 1686, 2128, { s: 9, c: '#fff', jw: 128 });
t('slightly exceeded.', 1686, 2145, { s: 9, c: '#fff' });

exact(true);
t('2025 Monthly Profit (Unit: 10k USD)', 1484, 2211, { s: 13, c: HEAD, a: 'c' });
lineLegend(1549, 1569, 2250, '2024', DARK, { s: 8.500 });
lineLegend(1607, 1626, 2250, '2025', CYAN, { s: 8.500 });
cartesian([1312, 2251, 1658, 2380], [22, 8, 4, 18], {
  type: 'line',
  labels: months,
  datasets: [
    { data: profit2024, borderColor: DARK, borderWidth: 2, pointRadius: 0, tension: 0.4 },
    { data: profit2025, borderColor: CYAN, borderWidth: 2, pointRadius: 0, tension: 0.4 }
  ],
  scales: {
    x: xAxis({ s: 8, line: '#DDE3E5', pad: 6 }),
    y: yAxis(0, 60, profitTicks, { s: 8, line: '#DDE3E5', pad: 4 })
  }
});
shape(`<path fill="${CYAN}" d="M1410 2257H1476L1500 2267L1476 2271V2287H1410Z"/><path fill="${CYAN}" d="M1546 2340H1611V2370H1546V2358L1530 2352L1546 2346Z"/>`);
lines(['July Profit Was the', 'Highest of the Year'], 1443, 2268, 7.7, { s: 6.500, c: '#fff', a: 'c' });
lines(['August Profit Was', 'the Lowest of the', 'Year'], 1579, 2347, 7.7, { s: 6.500, c: '#fff', a: 'c' });
exact(false);
function shareCard(y0, c, names, nameX, value) {
  box(1678, y0, 1821, y0 + 47, '#fff');
  box(1678, y0, 1682, y0 + 47, c);
  const top = y0 + 24 - (names.length - 1) * 6.5;
  lines(names, nameX, top, 13, { s: 11 });
  t(value, 1821, y0 + 24, { s: 25, c, a: 'r' });
}
shareCard(2214, DARK, ['Commodity', 'Sales Profit'], 1686, '85%');
shareCard(2278, CYAN, ['Advertising', 'Revenue'], 1689, '10%');
shareCard(2339, GREEN, ['Other Revenue'], 1689, '5%');
</script>
</body>
</html>
